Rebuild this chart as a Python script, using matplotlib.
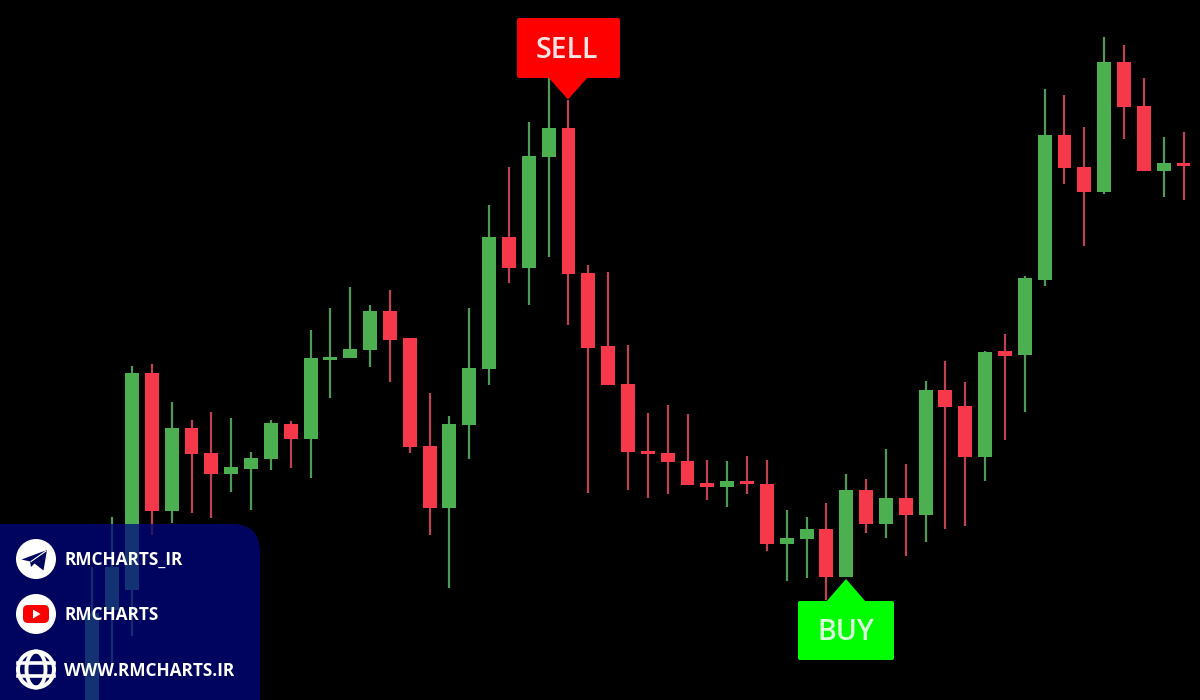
import numpy as np
import matplotlib
matplotlib.use('Agg')
import matplotlib.pyplot as plt
from matplotlib.patches import Circle, Ellipse, FancyBboxPatch, Polygon

# candles, y runs downward like the screen
candle_index = np.arange(-2, 54)
wick_top = [567, 517, 366, 364, 402, 420, 412, 418, 452, 420, 421, 330, 308, 287, 305, 290, 338, 393, 416,
            308, 205, 167, 122, 78, 100, 265, 272, 345, 413, 405, 414, 460, 461, 456, 460, 510, 517, 503,
            474, 479, 449, 464, 381, 361, 382, 351, 334, 276, 89, 95, 127, 37, 45, 78, 137, 132]
body_top = [613, 567, 373, 373, 428, 428, 453, 467, 458, 423, 424, 358, 357, 349, 311, 311, 338, 446, 424,
            368, 237, 237, 156, 128, 128, 273, 346, 384, 451, 453, 461, 483, 481, 481, 484, 538, 529, 529,
            490, 490, 498, 498, 390, 390, 406, 352, 351, 278, 135, 135, 167, 62, 62, 106, 163, 163]
body_bottom = [720, 610, 590, 511, 511, 454, 474, 474, 469, 459, 439, 439, 360, 358, 350, 340, 447, 508, 508,
               425, 369, 268, 268, 157, 274, 348, 385, 452, 454, 462, 485, 487, 487, 484, 544, 544, 539, 577,
               577, 524, 524, 515, 515, 407, 457, 457, 356, 355, 280, 168, 192, 192, 107, 171, 171, 166]
wick_bottom = [720, 663, 636, 535, 523, 513, 518, 492, 510, 470, 468, 478, 398, 358, 367, 382, 453, 535, 588,
               459, 385, 283, 305, 257, 325, 493, 385, 490, 498, 494, 485, 500, 507, 494, 551, 581, 578, 600,
               577, 533, 538, 556, 542, 529, 526, 481, 440, 412, 286, 184, 246, 194, 139, 171, 197, 200]
is_green = [1, 1, 1, 0, 1, 0, 0, 1, 1, 1, 0, 1, 1, 1, 1, 0, 0, 0, 1,
            1, 1, 0, 1, 1, 0, 0, 0, 0, 0, 0, 0, 0, 1, 0, 0, 1, 1, 0,
            1, 0, 1, 0, 1, 0, 0, 1, 0, 1, 1, 0, 0, 1, 0, 0, 1, 0]

sell_label = 'SELL'
buy_label = 'BUY'
contact_labels = ['RMCHARTS_IR', 'RMCHARTS', 'WWW.RMCHARTS.IR']

green = '#4caf50'
red = '#f5394b'
green_wick = '#4f9a58'
red_wick = '#bf4252'
navy = '#00065e'

wick_top = np.array(wick_top)
body_top = np.array(body_top)
body_bottom = np.array(body_bottom)
wick_bottom = np.array(wick_bottom)
is_green = np.array(is_green, dtype=bool)

fig = plt.figure(figsize=(12, 7), dpi=100, facecolor='black')

ax = fig.add_axes([0, 0, 1, 1], facecolor='black')
ax.set_xlim(-132 / 19.84, (1200 - 132) / 19.84)
ax.set_ylim(700, 0)
ax.axis('off')

wick_colors = [green_wick if g else red_wick for g in is_green]
body_colors = [green if g else red for g in is_green]
ax.vlines(candle_index, wick_top, wick_bottom, colors=wick_colors, linewidth=1.6, zorder=1)
ax.bar(candle_index, body_bottom - body_top, bottom=body_top, width=0.7, color=body_colors, zorder=2)

# overlay in screen pixels for the signs and the contact panel
over = fig.add_axes([0, 0, 1, 1], facecolor='none')
over.set_xlim(0, 1200)
over.set_ylim(700, 0)
over.axis('off')

over.add_patch(FancyBboxPatch((-60, 524), 320, 240, boxstyle='round,pad=0,rounding_size=28', fc='#000680',
                              ec='none', alpha=0.74, zorder=3))

# sell sign
over.add_patch(FancyBboxPatch((518, 19), 101, 58, boxstyle='round,pad=1,rounding_size=2', fc='#ff0000', ec='none', zorder=4))
over.add_patch(Polygon([(548, 77), (588, 77), (568, 99.5)], fc='#ff0000', ec='none', zorder=4))
over.text(567, 51, sell_label, color='#ffe4e4', fontsize=20.5, family='Open Sans', weight='semibold',
          ha='center', va='center', zorder=5)

# buy sign
over.add_patch(FancyBboxPatch((799, 602), 94, 57, boxstyle='round,pad=1,rounding_size=2', fc='#00ff00', ec='none', zorder=4))
over.add_patch(Polygon([(826, 602), (866, 602), (846, 579)], fc='#00ff00', ec='none', zorder=4))
over.text(845.5, 633, buy_label, color='#d8ffd8', fontsize=20.5, family='Open Sans', weight='semibold',
          ha='center', va='center', zorder=5)

# contact rows
row_y = [559, 614, 669.5]
for y, label in zip(row_y, contact_labels):
    over.add_patch(Circle((36, y), 20, fc='white', ec='none', zorder=5))
    over.text(64.5, y + 1, label, color='white', fontsize=12.45, family='Open Sans', weight='bold',
              ha='left', va='center', zorder=6)

# telegram plane
over.add_patch(Polygon([(21.5, 559.5), (47, 550), (43.5, 570.5), (34.5, 563.5), (31, 567), (30, 561.5)],
                       fc=navy, ec='none', zorder=6))
over.plot([46, 31], [551, 561.5], color='white', linewidth=0.8, zorder=7)

# youtube button
over.add_patch(FancyBboxPatch((26, 608), 20, 12, boxstyle='round,pad=3,rounding_size=5', fc='#ff0000', ec='none', zorder=6))
over.add_patch(Polygon([(33, 609.5), (33, 618.5), (40.5, 614)], fc='white', ec='none', zorder=7))

# globe
over.add_patch(Circle((36, 669.5), 16, fc=navy, ec='none', zorder=6))
over.add_patch(Ellipse((36, 669.5), 19, 36, fc='none', ec='white', linewidth=2.8, zorder=7))
over.plot([18, 54], [663, 663], color='white', linewidth=2.6, zorder=7)
over.plot([18, 54], [676, 676], color='white', linewidth=2.6, zorder=7)

fig.savefig('out.png', dpi=100, facecolor='black')
